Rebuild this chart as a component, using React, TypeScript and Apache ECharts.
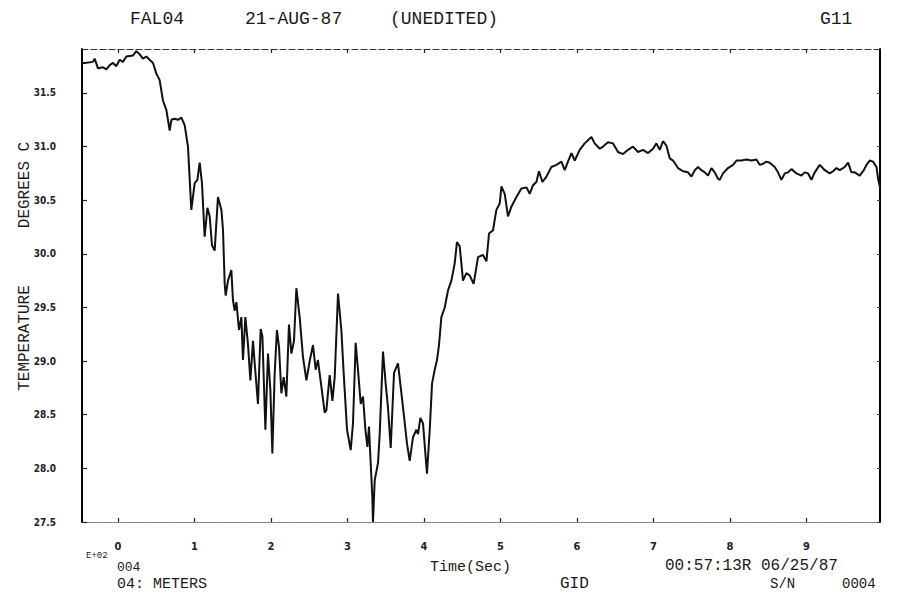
import React, { useEffect, useRef } from "react";
import * as echarts from "echarts";

// Time in units of E+02 seconds
const timeE2 = [
  -0.47, -0.435, -0.327, -0.305, -0.261, -0.196, -0.152, -0.108, -0.065, -0.021,
  0.022, 0.065, 0.11, 0.196, 0.241, 0.284, 0.327, 0.371, 0.414, 0.458,
  0.502, 0.545, 0.588, 0.633, 0.676, 0.698, 0.741, 0.784, 0.829, 0.872,
  0.915, 0.959, 1.003, 1.038, 1.068, 1.098, 1.133, 1.169, 1.199, 1.229,
  1.264, 1.307, 1.352, 1.373, 1.395, 1.408, 1.438, 1.482, 1.503, 1.525,
  1.548, 1.582, 1.613, 1.634, 1.665, 1.699, 1.731, 1.765, 1.787, 1.83,
  1.865, 1.888, 1.927, 1.961, 1.992, 2.018, 2.048, 2.078, 2.105, 2.136,
  2.166, 2.201, 2.235, 2.267, 2.301, 2.332, 2.375, 2.418, 2.463, 2.506,
  2.549, 2.584, 2.614, 2.659, 2.702, 2.724, 2.767, 2.803, 2.833, 2.876,
  2.92, 2.95, 2.994, 3.042, 3.072, 3.107, 3.137, 3.173, 3.203, 3.234,
  3.26, 3.281, 3.303, 3.325, 3.333, 3.356, 3.399, 3.421, 3.464, 3.499,
  3.529, 3.565, 3.608, 3.66, 3.695, 3.735, 3.778, 3.813, 3.856, 3.901,
  3.922, 3.953, 3.987, 4.039, 4.075, 4.105, 4.14, 4.17, 4.196, 4.227,
  4.271, 4.314, 4.358, 4.401, 4.431, 4.467, 4.51, 4.554, 4.597, 4.649,
  4.706, 4.771, 4.816, 4.85, 4.902, 4.946, 4.99, 5.012, 5.055, 5.098,
  5.142, 5.208, 5.273, 5.339, 5.382, 5.425, 5.469, 5.503, 5.548, 5.6,
  5.665, 5.731, 5.796, 5.839, 5.882, 5.927, 5.97, 6.035, 6.1, 6.144,
  6.188, 6.231, 6.297, 6.34, 6.405, 6.471, 6.536, 6.601, 6.667, 6.732,
  6.797, 6.863, 6.928, 6.993, 7.038, 7.081, 7.124, 7.168, 7.212, 7.255,
  7.32, 7.386, 7.451, 7.495, 7.539, 7.582, 7.626, 7.669, 7.712, 7.757,
  7.8, 7.843, 7.865, 7.908, 7.974, 8.039, 8.084, 8.149, 8.214, 8.28,
  8.345, 8.388, 8.431, 8.476, 8.519, 8.584, 8.627, 8.671, 8.715, 8.758,
  8.803, 8.868, 8.933, 8.976, 9.02, 9.064, 9.107, 9.173, 9.238, 9.303,
  9.346, 9.391, 9.434, 9.5, 9.543, 9.587, 9.63, 9.695, 9.748, 9.783,
  9.826, 9.869, 9.914, 9.935, 9.96,
];

// Temperature, degrees C
const tempC = [
  31.78, 31.78, 31.79, 31.82, 31.73, 31.74, 31.72, 31.76, 31.78, 31.75,
  31.81, 31.79, 31.84, 31.85, 31.89, 31.86, 31.82, 31.84, 31.81, 31.78,
  31.68, 31.62, 31.43, 31.34, 31.15, 31.25, 31.26, 31.25, 31.27, 31.2,
  31.0, 30.41, 30.66, 30.69, 30.85, 30.66, 30.16, 30.43, 30.35, 30.08,
  30.03, 30.53, 30.41, 30.22, 29.72, 29.61, 29.75, 29.85, 29.57, 29.47,
  29.55, 29.29, 29.41, 29.01, 29.41, 29.16, 28.82, 29.19, 28.98, 28.6,
  29.3, 29.23, 28.36, 29.07, 28.73, 28.14, 28.88, 29.29, 29.13, 28.7,
  28.85, 28.67, 29.34, 29.07, 29.19, 29.68, 29.41, 29.04, 28.82, 29.0,
  29.15, 28.92, 29.01, 28.76, 28.52, 28.54, 28.87, 28.63, 28.85, 29.63,
  29.29, 28.89, 28.36, 28.17, 28.42, 29.17, 28.92, 28.6, 28.67, 28.36,
  28.2, 28.39, 28.05, 27.73, 27.5, 27.89, 28.05, 28.32, 29.09, 28.79,
  28.57, 28.19, 28.89, 28.98, 28.76, 28.51, 28.23, 28.07, 28.29, 28.36,
  28.32, 28.47, 28.42, 27.95, 28.36, 28.79, 28.92, 29.01, 29.15, 29.41,
  29.5, 29.66, 29.75, 29.91, 30.11, 30.07, 29.75, 29.82, 29.8, 29.72,
  29.97, 29.99, 29.93, 30.19, 30.22, 30.41, 30.47, 30.63, 30.56, 30.35,
  30.44, 30.53, 30.61, 30.62, 30.56, 30.64, 30.67, 30.77, 30.67, 30.72,
  30.81, 30.83, 30.86, 30.78, 30.86, 30.94, 30.87, 30.97, 31.03, 31.06,
  31.09, 31.03, 30.98, 31.0, 31.04, 31.03, 30.95, 30.93, 30.97, 31.0,
  30.95, 30.97, 30.94, 30.98, 31.03, 30.97, 31.05, 31.01, 30.89, 30.87,
  30.8, 30.77, 30.76, 30.72, 30.78, 30.81, 30.78, 30.76, 30.73, 30.8,
  30.76, 30.7, 30.69, 30.75, 30.8, 30.83, 30.87, 30.87, 30.88, 30.87,
  30.88, 30.83, 30.84, 30.86, 30.85, 30.81, 30.76, 30.69, 30.75, 30.76,
  30.79, 30.75, 30.73, 30.76, 30.75, 30.69, 30.76, 30.83, 30.78, 30.75,
  30.77, 30.8, 30.78, 30.81, 30.85, 30.76, 30.76, 30.73, 30.78, 30.83,
  30.87, 30.86, 30.81, 30.7, 30.62,
];

const xTickValues = [0, 1, 2, 3, 4, 5, 6, 7, 8, 9];
const yTickValues = [27.5, 28.0, 28.5, 29.0, 29.5, 30.0, 30.5, 31.0, 31.5];

const titleTexts = ["FAL04", "21-AUG-87", "(UNEDITED)", "G11"];
const yNameTop = "DEGREES C";
const yNameBottom = "TEMPERATURE";
const footerTexts = ["E+02", "004", "04: METERS", "Time(Sec)", "GID", "00:57:13R 06/25/87", "S/N", "0004"];

const MONO = "'Liberation Mono', 'DejaVu Sans Mono', monospace";
const NARROW = "'Liberation Sans Narrow', 'DejaVu Sans Condensed', 'Liberation Sans', sans-serif";

export default function App() {
  const ref = useRef<HTMLDivElement>(null);

  useEffect(() => {
    document.body.style.margin = "0";
    if (!ref.current) return;
    const chart = echarts.init(ref.current, undefined, { renderer: "svg" });
    const data = timeE2.map((t, i) => [t, tempC[i]]);

    const txt = (text: string, x: number, y: number, size: number, extra: any = {}) => ({
      type: "text",
      x,
      y,
      style: {
        text,
        font: `${size}px ${MONO}`,
        fill: "#1a1a1a",
        textVerticalAlign: "middle",
        ...(extra.style || {}),
      },
      ...(extra.el || {}),
    });

    chart.setOption({
      animation: false,
      backgroundColor: "#fff",
      grid: { left: 82, right: 25, top: 49, bottom: 75 },
      xAxis: [
        {
          type: "value",
          min: -0.47,
          max: 9.96,
          position: "bottom",
          axisLine: { show: true, onZero: false, lineStyle: { color: "#777", type: "dotted", width: 1.2 } },
          axisTick: { show: true, inside: true, length: 4, customValues: xTickValues, lineStyle: { color: "#222", width: 1.2 } },
          axisLabel: {
            customValues: xTickValues,
            margin: 19,
            fontSize: 11,
            fontFamily: NARROW,
            fontWeight: "bold",
            color: "#222",
          },
          splitLine: { show: false },
        },
        {
          type: "value",
          min: -0.47,
          max: 9.96,
          position: "top",
          axisLine: { show: true, onZero: false, lineStyle: { color: "#333", type: [6, 3], width: 1.2 } },
          axisTick: { show: true, inside: true, length: 4, customValues: xTickValues, lineStyle: { color: "#222", width: 1.2 } },
          axisLabel: { show: false },
          splitLine: { show: false },
        },
      ],
      yAxis: [
        {
          type: "value",
          min: 27.5,
          max: 31.91,
          position: "left",
          axisLine: { show: true, onZero: false, lineStyle: { color: "#000", width: 2 } },
          axisTick: { show: true, inside: true, length: 5, customValues: yTickValues, lineStyle: { color: "#222", width: 1.2 } },
          axisLabel: {
            customValues: yTickValues,
            formatter: (v: number) => v.toFixed(1),
            margin: 26,
            fontSize: 10,
            fontFamily: NARROW,
            fontWeight: "bold",
            color: "#222",
          },
          splitLine: { show: false },
        },
        {
          type: "value",
          min: 27.5,
          max: 31.91,
          position: "right",
          axisLine: { show: true, onZero: false, lineStyle: { color: "#000", width: 2 } },
          axisTick: { show: true, inside: true, length: 3, customValues: yTickValues, lineStyle: { color: "#444", width: 1 } },
          axisLabel: { show: false },
          splitLine: { show: false },
        },
      ],
      series: [
        {
          type: "line",
          xAxisIndex: 0,
          yAxisIndex: 0,
          data,
          showSymbol: false,
          clip: true,
          lineStyle: { color: "#111", width: 2 },
        },
      ],
      graphic: [
        txt(titleTexts[0], 130, 19, 18),
        txt(titleTexts[1], 245, 19, 18),
        txt(titleTexts[2], 390, 19, 18),
        txt(titleTexts[3], 820, 19, 18),
        txt(yNameTop, 25, 185, 16, { el: { rotation: Math.PI / 2 }, style: { textAlign: "center" } }),
        txt(yNameBottom, 25, 338, 16, { el: { rotation: Math.PI / 2 }, style: { textAlign: "center" } }),
        txt(footerTexts[0], 86, 556, 9),
        txt(footerTexts[1], 117, 567, 13),
        txt(footerTexts[2], 117, 584, 15),
        txt(footerTexts[3], 430, 567, 15),
        txt(footerTexts[4], 560, 584, 16),
        txt(footerTexts[5], 665, 566, 16),
        txt(footerTexts[6], 770, 584, 14),
        txt(footerTexts[7], 842, 584, 14),
      ],
    });

    return () => chart.dispose();
  }, []);

  return <div ref={ref} style={{ width: 905, height: 597 }} />;
}
